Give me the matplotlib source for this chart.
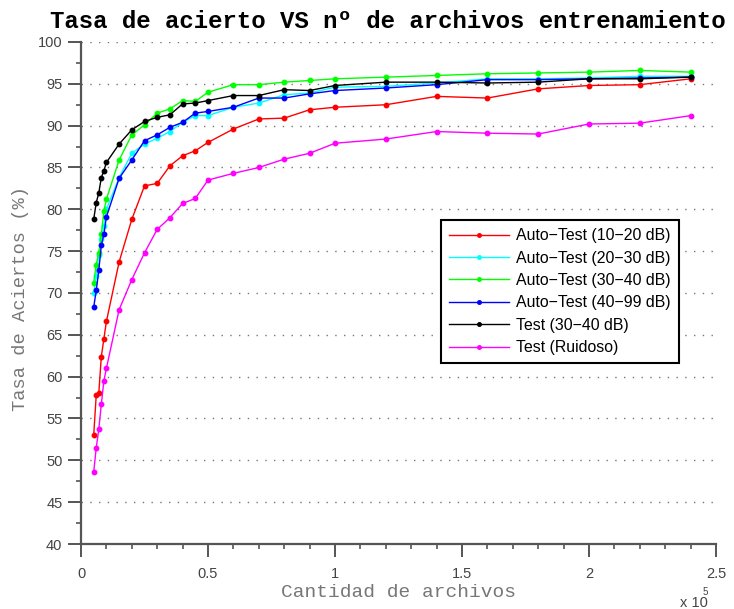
import matplotlib
matplotlib.use("Agg")
import matplotlib.pyplot as plt
from matplotlib.ticker import MultipleLocator, FuncFormatter

files = [5000, 6000, 7000, 8000, 9000, 10000, 15000, 20000, 25000, 30000, 35000,
         40000, 45000, 50000, 60000, 70000, 80000, 90000, 100000, 120000, 140000,
         160000, 180000, 200000, 220000, 240000]

auto_10_20 = [53.0, 57.8, 58.0, 62.4, 64.5, 66.6, 73.7, 78.8, 82.8, 83.1, 85.2,
              86.4, 87.0, 88.0, 89.6, 90.8, 90.9, 91.9, 92.2, 92.5, 93.5,
              93.3, 94.4, 94.8, 94.9, 95.6]
auto_20_30 = [70.0, 72.0, 74.5, 76.5, 78.0, 80.0, 83.8, 86.7, 87.8, 88.5, 89.3,
              90.4, 91.2, 91.2, 92.2, 92.7, 93.7, 93.9, 94.6, 94.7, 95.1,
              95.6, 95.6, 95.7, 95.9, 95.9]
auto_30_40 = [71.2, 73.4, 74.8, 77.0, 79.8, 81.2, 85.9, 88.9, 90.1, 91.5, 92.0,
              93.0, 92.9, 94.0, 94.9, 94.9, 95.2, 95.4, 95.6, 95.8, 96.0,
              96.2, 96.3, 96.4, 96.6, 96.4]
auto_40_99 = [68.3, 70.3, 72.7, 75.7, 77.0, 79.1, 83.7, 85.9, 88.2, 88.9, 89.8,
              90.4, 91.5, 91.7, 92.2, 93.3, 93.3, 93.8, 94.2, 94.5, 94.9,
              95.5, 95.5, 95.6, 95.7, 95.8]
test_30_40 = [78.8, 80.8, 81.95, 83.8, 84.6, 85.6, 87.8, 89.5, 90.5, 91.0, 91.3,
              92.6, 92.7, 93.0, 93.6, 93.6, 94.3, 94.2, 94.8, 95.2, 95.2,
              95.1, 95.2, 95.6, 95.6, 95.8]
test_ruidoso = [48.6, 51.5, 53.7, 56.7, 59.5, 61.0, 68.0, 71.6, 74.8, 77.6, 79.0,
                80.7, 81.3, 83.5, 84.3, 85.0, 86.0, 86.7, 87.9, 88.4, 89.3,
                89.1, 89.0, 90.2, 90.3, 91.2]

labels = ["Auto\u2212Test (10\u221220 dB)", "Auto\u2212Test (20\u221230 dB)",
          "Auto\u2212Test (30\u221240 dB)", "Auto\u2212Test (40\u221299 dB)",
          "Test (30\u221240 dB)", "Test (Ruidoso)"]
series = [auto_10_20, auto_20_30, auto_30_40, auto_40_99, test_30_40, test_ruidoso]
colors = ["#ff0000", "#00ffff", "#00ff00", "#0000ff", "#000000", "#ff00ff"]

plt.rcParams['font.family'] = ['Liberation Sans', 'DejaVu Sans']

fig = plt.figure(figsize=(7.34, 6.09), dpi=100)
ax = fig.add_axes([81/734, 1-544/609, 635/734, 502/609])

for ys, c, lab in zip(series, colors, labels):
    ax.plot(files, ys, color=c, lw=1.0, marker='o', ms=3.2, mec=c, mfc=c, label=lab)

ax.set_xlim(0, 250000)
ax.set_ylim(40, 100)
ax.xaxis.set_major_locator(MultipleLocator(50000))
ax.xaxis.set_minor_locator(MultipleLocator(10000))
ax.yaxis.set_major_locator(MultipleLocator(5))
ax.yaxis.set_minor_locator(MultipleLocator(2.5))
ax.xaxis.set_major_formatter(FuncFormatter(lambda v, p: f"{v/1e5:g}"))

for s in ['top', 'right']:
    ax.spines[s].set_visible(False)
for s in ['left', 'bottom']:
    ax.spines[s].set_color('#555555')
    ax.spines[s].set_linewidth(1.6)

ax.tick_params(which='major', direction='out', length=9.4, width=1.4, color='#555555',
               labelsize=10.5, labelcolor='#444444')
ax.tick_params(which='minor', direction='out', length=3.6, width=1.2, color='#555555')
ax.tick_params(axis='x', which='major', pad=7)
ax.tick_params(axis='y', which='major', pad=4)

ax.yaxis.grid(True, which='major', color='#777777', linestyle=(0, (1, 5.3)), lw=1.0)
ax.set_axisbelow(True)

ax.set_title("Tasa de acierto VS nº de archivos entrenamiento",
             family=['Liberation Mono', 'DejaVu Sans Mono'], weight='bold', fontsize=17.3,
             pad=10, x=(388 - 81) / 635)
ax.set_xlabel("Cantidad de archivos", family=['Liberation Mono', 'DejaVu Sans Mono'],
              fontsize=14, color='#777777', labelpad=2)
ax.set_ylabel("Tasa de Aciertos (%)", family=['Liberation Mono', 'DejaVu Sans Mono'],
              fontsize=13.5, color='#777777', labelpad=20)
ax.yaxis.set_label_coords(-(81 - 29) / 635, 0.49)

leg = ax.legend(loc='upper left', bbox_to_anchor=(0.567, 0.645), borderaxespad=0,
                fontsize=11.4, numpoints=1, handlelength=3.8, handletextpad=0.45,
                labelspacing=0.47, borderpad=0.5, fancybox=False, framealpha=1,
                edgecolor='black', markerscale=0.8)
leg.get_frame().set_linewidth(1.5)

fig.text(680/734, 1-603/609, "x 10", fontsize=10.5, color='#444444', va='center')
fig.text(703/734, 1-592/609, "5", fontsize=7, color='#444444', va='center')

fig.savefig("out.png", dpi=100)
